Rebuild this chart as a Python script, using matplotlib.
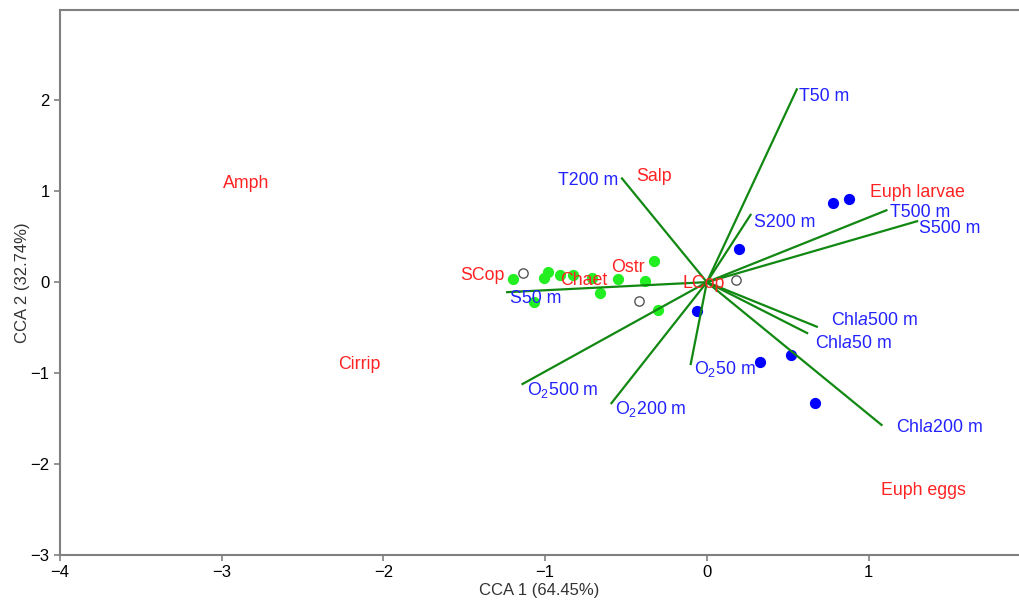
import matplotlib.pyplot as plt
import numpy as np

plt.rcParams['font.family'] = ['Liberation Sans', 'DejaVu Sans']
plt.rcParams['mathtext.fontset'] = 'custom'
plt.rcParams['mathtext.rm'] = 'Liberation Sans'
plt.rcParams['mathtext.it'] = 'Liberation Sans:italic'

# environmental vectors (CCA 1, CCA 2)
env_names = ['T50 m', 'T200 m', 'T500 m', 'S50 m', 'S200 m', 'S500 m',
             'Chl$\\mathit{a}$50 m', 'Chl$\\mathit{a}$200 m', 'Chl$\\mathit{a}$500 m',
             'O$_2$50 m', 'O$_2$200 m', 'O$_2$500 m']
env_x = [0.556, -0.525, 1.11, -1.235, 0.27, 1.30, 0.62, 1.08, 0.68, -0.10, -0.59, -1.14]
env_y = [2.12, 1.14, 0.79, -0.11, 0.74, 0.67, -0.56, -1.57, -0.49, -0.90, -1.33, -1.12]
# label anchors
env_lx = [0.57, -0.55, 1.13, -1.22, 0.29, 1.31, 0.67, 1.17, 0.77, -0.08, -0.57, -1.11]
env_ly = [2.04, 1.12, 0.77, -0.18, 0.66, 0.59, -0.68, -1.60, -0.42, -0.95, -1.39, -1.19]
env_ha = ['left', 'right', 'left', 'left', 'left', 'left', 'left', 'left', 'left', 'left', 'left', 'left']

# species scores
sp_names = ['Amph', 'Cirrip', 'Salp', 'Euph larvae', 'SCop', 'Chaet', 'Ostr', 'LCop', 'Euph eggs']
sp_x = [-2.85, -2.15, -0.33, 1.30, -1.39, -0.76, -0.49, -0.02, 1.34]
sp_y = [1.08, -0.90, 1.16, 0.99, 0.07, 0.02, 0.16, -0.02, -2.29]

# site scores
green_x = [-1.20, -1.01, -0.98, -0.91, -0.83, -0.71, -0.55, -0.66, -0.38, -0.33, -0.30, -1.07]
green_y = [0.03, 0.05, 0.11, 0.08, 0.08, 0.05, 0.04, -0.12, 0.01, 0.23, -0.31, -0.22]
blue_x = [0.78, 0.88, 0.20, -0.06, 0.33, 0.52, 0.67]
blue_y = [0.87, 0.91, 0.36, -0.32, -0.88, -0.80, -1.33]
open_x = [-1.14, -0.42, 0.18]
open_y = [0.10, -0.21, 0.02]

fig = plt.figure(figsize=(10.19, 6), dpi=100)
ax = fig.add_axes([0.0589, 0.075, 0.9411, 0.908])

ax.scatter(green_x, green_y, s=50, color='#22ee22', zorder=2)
ax.scatter(blue_x, blue_y, s=50, color='#0000ff', zorder=2)
ax.scatter(open_x, open_y, s=45, facecolor='white', edgecolor='#555555', linewidth=1.0, zorder=2)

for x, y in zip(env_x, env_y):
    ax.plot([0, x], [0, y], color='#118811', lw=1.6, zorder=3)

for name, x, y, ha in zip(env_names, env_lx, env_ly, env_ha):
    ax.text(x, y, name, color='#2222ff', fontsize=12.8, ha=ha, va='center', zorder=4)

for name, x, y in zip(sp_names, sp_x, sp_y):
    ax.text(x, y, name, color='#ff2222', fontsize=12.8, ha='center', va='center', zorder=5)

ax.set_xlim(-4, 1.93)
ax.set_ylim(-3, 2.99)
ax.set_xticks([-4, -3, -2, -1, 0, 1])
ax.set_yticks([-3, -2, -1, 0, 1, 2])
ax.set_xticklabels(['\u22124', '\u22123', '\u22122', '\u22121', '0', '1'])
ax.set_yticklabels(['\u22123', '\u22122', '\u22121', '0', '1', '2'])

ax.spines['right'].set_visible(False)
for s in ['left', 'bottom', 'top']:
    ax.spines[s].set_color('#808080')
    ax.spines[s].set_linewidth(1.5)
ax.tick_params(colors='#808080', labelcolor='black', labelsize=12, length=4, width=1.2)

ax.set_xlabel('CCA 1 (64.45%)', fontsize=12, color='#333333', labelpad=2)
ax.set_ylabel('CCA 2 (32.74%)', fontsize=12, color='#333333', labelpad=0)

fig.savefig('out.png')
